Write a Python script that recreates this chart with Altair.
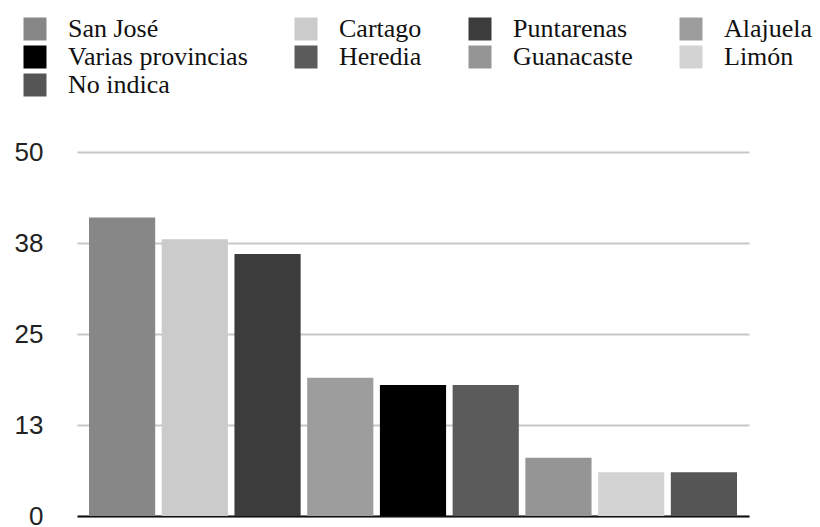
import altair as alt
import pandas as pd

provincias = ["San José", "Cartago", "Puntarenas", "Alajuela", "Varias provincias",
              "Heredia", "Guanacaste", "Limón", "No indica"]
valores = [41, 38, 36, 19, 18, 18, 8, 6, 6]
colores = ["#878787", "#cbcbcb", "#3c3c3c", "#9d9d9d", "#000000",
           "#5b5b5b", "#959595", "#d3d3d3", "#555555"]
ticks_y = [0, 12.5, 25, 37.5, 50]

df = pd.DataFrame({"provincia": provincias, "valor": valores})

chart = alt.Chart(df).mark_bar().encode(
    x=alt.X("provincia:N", sort=provincias,
            scale=alt.Scale(paddingInner=0.09, paddingOuter=0.165),
            axis=alt.Axis(title=None, labels=False, ticks=False,
                          domainColor="#111111", domainWidth=2)),
    y=alt.Y("valor:Q", scale=alt.Scale(domain=[0, 50], nice=False),
            axis=alt.Axis(title=None, values=ticks_y, labelExpr="round(datum.value)",
                          domain=False, ticks=False, grid=True,
                          gridColor="#c8c8c8", gridWidth=2,
                          labelFont="Liberation Sans", labelFontSize=26,
                          labelColor="#222222", labelPadding=34)),
    color=alt.Color("provincia:N",
                    scale=alt.Scale(domain=provincias, range=colores),
                    legend=alt.Legend(title=None, orient="none", legendX=-55, legendY=-136,
                                      direction="horizontal",
                                      values=provincias,
                                      columns=4, columnPadding=45, rowPadding=2,
                                      symbolType="square", symbolSize=529,
                                      symbolStrokeWidth=0, symbolOpacity=1,
                                      labelFont="Liberation Serif", labelFontSize=26,
                                      labelColor="#111111", labelOffset=20,
                                      labelLimit=400, padding=0)),
).properties(
    width=672, height=364,
    background="white",
    autosize=alt.AutoSizeParams(type="none"),
    padding={"left": 77, "top": 152, "right": 71, "bottom": 11},
).configure_view(stroke=None)

chart.save("out.html", embed_options={"renderer": "svg", "actions": False})
